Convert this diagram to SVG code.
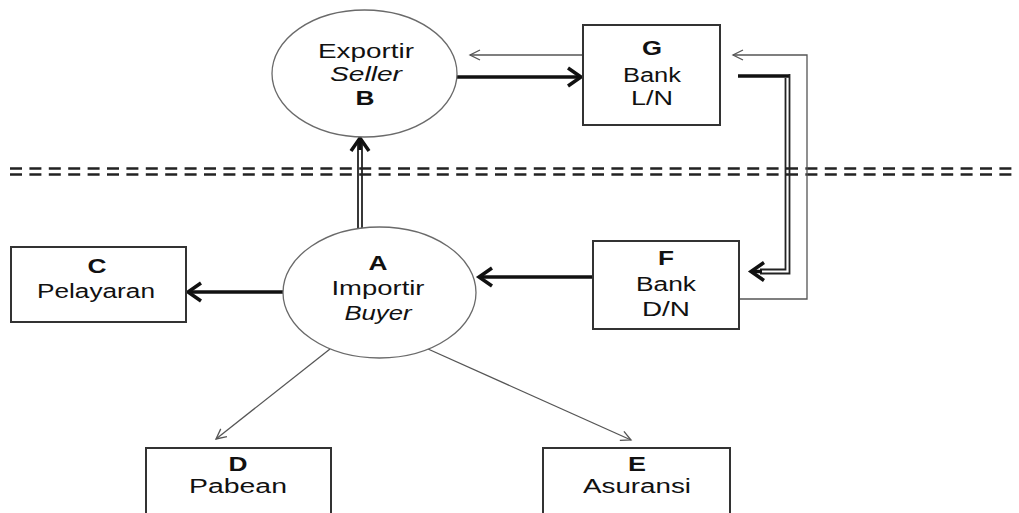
<svg xmlns="http://www.w3.org/2000/svg" width="1019" height="513" viewBox="0 0 1019 513">
<style>
.bg{fill:#ffffff}
.box{fill:#ffffff;stroke:#333333;stroke-width:2}
.ell{fill:#ffffff;stroke:#6a6a6a;stroke-width:1.3}
text{font-family:"Liberation Sans",Arial,sans-serif;font-size:20px;fill:#111111;text-anchor:middle}
.b{font-weight:bold}
.i{font-style:italic}
.thick{fill:none;stroke:#111111;stroke-width:3.5}
.thin{fill:none;stroke:#555555;stroke-width:1.3}
.dbl{fill:none;stroke:#222222;stroke-width:1.8}
.dash{fill:none;stroke:#222222;stroke-width:2.5;stroke-dasharray:12 7.4}
</style>
<defs>
<marker id="ahThick" markerUnits="userSpaceOnUse" markerWidth="22" markerHeight="26" refX="17" refY="13" orient="auto" overflow="visible">
<path d="M4,4 L17,13 L4,22" fill="none" stroke="#111111" stroke-width="3.5"/>
</marker>
<marker id="ahThin" markerUnits="userSpaceOnUse" markerWidth="14" markerHeight="12" refX="11" refY="6" orient="auto" overflow="visible">
<path d="M1,1 L11,6 L1,11" fill="none" stroke="#555555" stroke-width="1.3"/>
</marker>
</defs>
<rect class="bg" x="0" y="0" width="1019" height="513"/>

<g id="separator">
<line class="dash" x1="10" y1="168.5" x2="1016" y2="168.5"/>
<line class="dash" x1="10" y1="174.5" x2="1016" y2="174.5"/>
</g>

<g id="connectors">
<path class="thick" d="M457,77 H581" marker-end="url(#ahThick)"/>
<path class="thin" d="M583,55 H470" marker-end="url(#ahThin)"/>
<line class="dbl" x1="358" y1="229" x2="358" y2="142"/>
<line class="dbl" x1="362" y1="229" x2="362" y2="142"/>
<path class="thick" d="M360,150 V138" marker-end="url(#ahThick)"/>
<path class="thick" d="M738,76 H789" stroke-width="4"/>
<path class="dbl" d="M789.5,74 V273.5 H760"/>
<path class="dbl" d="M785.5,78 V269.5 H760"/>
<path class="thick" d="M762,271.5 H751" marker-end="url(#ahThick)"/>
<path class="thin" d="M740,299 H807 V55 H733" marker-end="url(#ahThin)"/>
<path class="thick" d="M593,277 H479" stroke-width="4" marker-end="url(#ahThick)"/>
<path class="thick" d="M283,292 H188" marker-end="url(#ahThick)"/>
<path class="thin" d="M330,349 L216,439" marker-end="url(#ahThin)"/>
<path class="thin" d="M428,349 L631,440" marker-end="url(#ahThin)"/>
</g>

<g id="nodeB">
<ellipse class="ell" cx="364.5" cy="73.5" rx="92.5" ry="63.5"/>
<text x="366" y="58" textLength="96" lengthAdjust="spacingAndGlyphs">Exportir</text>
<text class="i" x="366" y="81" textLength="72" lengthAdjust="spacingAndGlyphs">Seller</text>
<text class="b" x="365" y="105" textLength="19" lengthAdjust="spacingAndGlyphs">B</text>
</g>

<g id="nodeG">
<rect class="box" x="583" y="25" width="137" height="100"/>
<text class="b" x="652" y="55" textLength="20" lengthAdjust="spacingAndGlyphs">G</text>
<text x="652" y="82" textLength="58" lengthAdjust="spacingAndGlyphs">Bank</text>
<text x="652" y="105" textLength="42" lengthAdjust="spacingAndGlyphs">L/N</text>
</g>

<g id="nodeA">
<ellipse class="ell" cx="379.5" cy="292.5" rx="96.5" ry="65.5"/>
<text class="b" x="378" y="270" textLength="19" lengthAdjust="spacingAndGlyphs">A</text>
<text x="378" y="295" textLength="93" lengthAdjust="spacingAndGlyphs">Importir</text>
<text class="i" x="378" y="320" textLength="67" lengthAdjust="spacingAndGlyphs">Buyer</text>
</g>

<g id="nodeC">
<rect class="box" x="11" y="247" width="175" height="75"/>
<text class="b" x="97" y="273" textLength="19" lengthAdjust="spacingAndGlyphs">C</text>
<text x="96" y="298" textLength="118" lengthAdjust="spacingAndGlyphs">Pelayaran</text>
</g>

<g id="nodeF">
<rect class="box" x="593" y="241" width="146" height="88"/>
<text class="b" x="666" y="265" textLength="16" lengthAdjust="spacingAndGlyphs">F</text>
<text x="666" y="291" textLength="60" lengthAdjust="spacingAndGlyphs">Bank</text>
<text x="666" y="316" textLength="48" lengthAdjust="spacingAndGlyphs">D/N</text>
</g>

<g id="nodeD">
<rect class="box" x="146" y="448" width="185" height="80"/>
<text class="b" x="238" y="471" textLength="19" lengthAdjust="spacingAndGlyphs">D</text>
<text x="238" y="493" textLength="98" lengthAdjust="spacingAndGlyphs">Pabean</text>
</g>

<g id="nodeE">
<rect class="box" x="543" y="448" width="187" height="80"/>
<text class="b" x="637" y="471" textLength="18" lengthAdjust="spacingAndGlyphs">E</text>
<text x="637" y="493" textLength="108" lengthAdjust="spacingAndGlyphs">Asuransi</text>
</g>
</svg>
